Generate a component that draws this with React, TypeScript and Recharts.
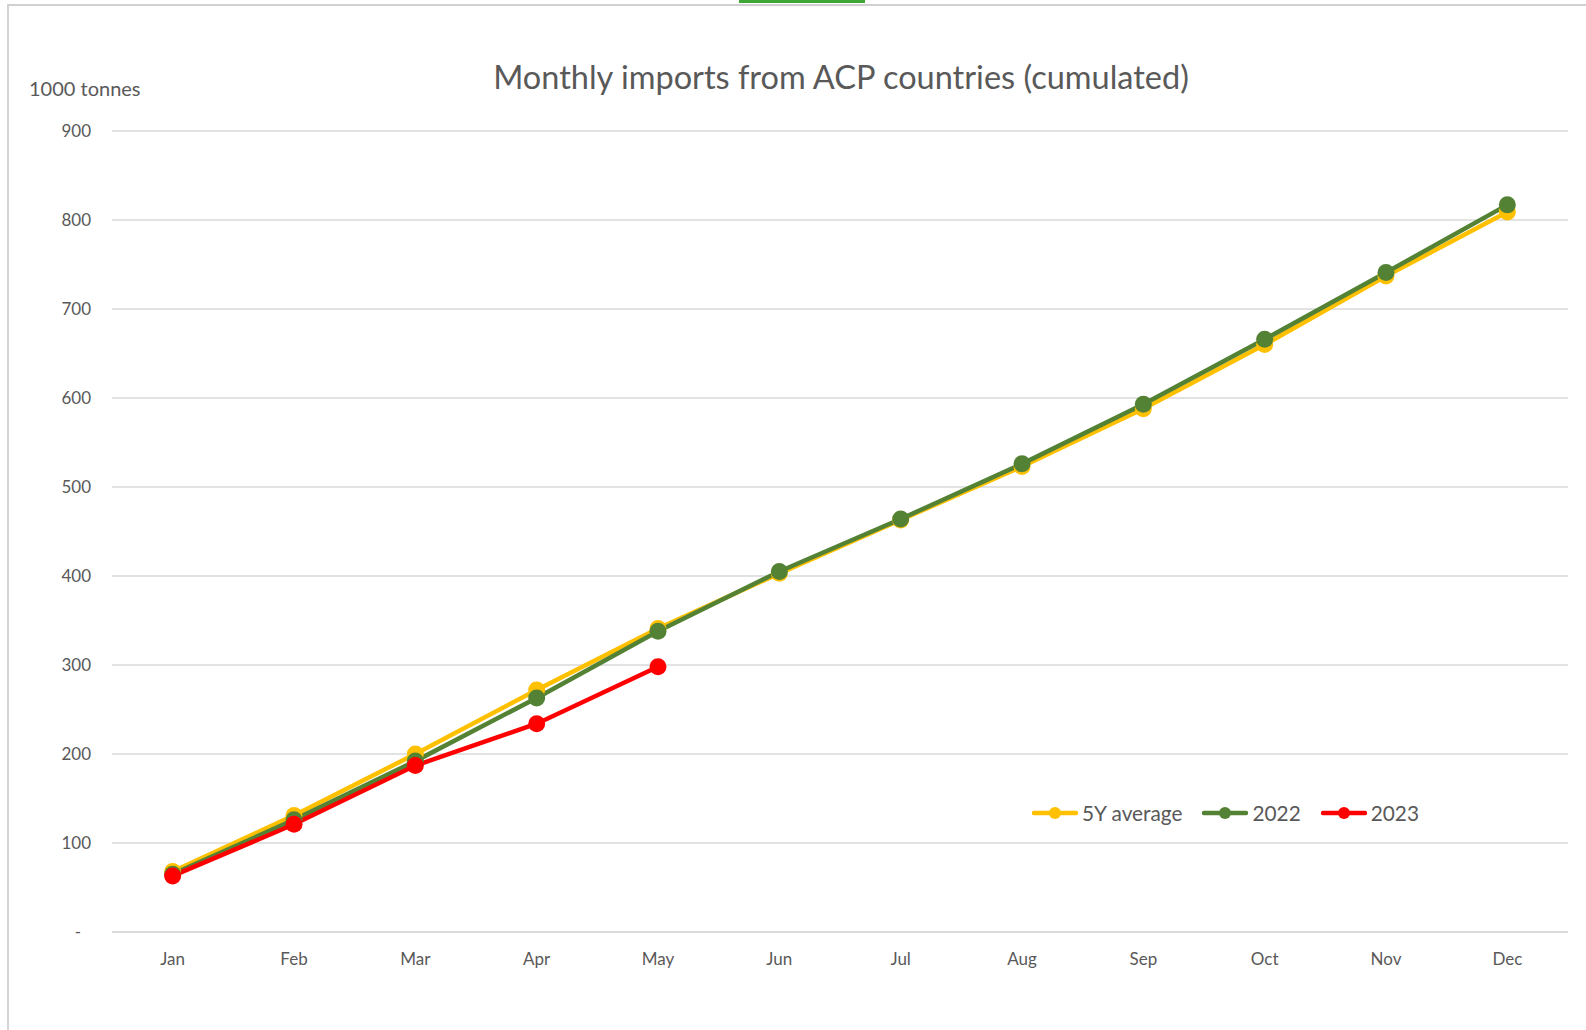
import { LineChart, Line, XAxis, YAxis, CartesianGrid } from 'recharts';

const months = ['Jan', 'Feb', 'Mar', 'Apr', 'May', 'Jun', 'Jul', 'Aug', 'Sep', 'Oct', 'Nov', 'Dec'];
const avg5y = [68, 131, 200, 272, 341, 403, 463, 523, 588, 660, 737, 809];
const y2022 = [65, 126, 192, 263, 338, 405, 464, 526, 593, 666, 741, 817];
const y2023 = [63, 121, 187, 234, 298];
const yTicks = [0, 100, 200, 300, 400, 500, 600, 700, 800, 900];

const seriesInfo = [
  { key: 'avg', name: '5Y average', color: '#FFC000' },
  { key: 'y2022', name: '2022', color: '#548235' },
  { key: 'y2023', name: '2023', color: '#FF0000' },
];

const data = months.map((m, i) => ({
  month: m,
  avg: avg5y[i],
  y2022: y2022[i],
  y2023: i < y2023.length ? y2023[i] : null,
}));

const FONT = 'Lato, "Open Sans", sans-serif';
const TEXT = '#595959';

function YTick({ x, y, payload }: any) {
  const v = payload.value;
  if (v === 0) {
    return (
      <text x={78} y={y} dy="0.35em" textAnchor="middle" fill={TEXT} fontSize={17} fontFamily={FONT}>
        -
      </text>
    );
  }
  return (
    <text x={x} y={y} dy="0.35em" textAnchor="end" fill={TEXT} fontSize={17} fontFamily={FONT}>
      {v}
    </text>
  );
}

export default function App() {
  return (
    <div style={{ position: 'relative', margin: -8, width: 1586, height: 1030, background: '#fff', overflow: 'hidden' }}>
      <div style={{ position: 'absolute', left: 0, width: 1586, top: 57, textAlign: 'center', paddingLeft: 96, boxSizing: 'border-box', fontFamily: FONT, fontSize: 32.5, color: TEXT }}>
        Monthly imports from ACP countries (cumulated)
      </div>
      <div style={{ position: 'absolute', left: 29, top: 76, fontFamily: FONT, fontSize: 20, color: TEXT }}>
        1000 tonnes
      </div>

      <div style={{ position: 'absolute', left: 0, top: 0 }}>
        <LineChart width={1586} height={1030} data={data} margin={{ top: 131, right: 18, bottom: 68, left: 52 }}>
          <CartesianGrid vertical={false} stroke="#D9D9D9" strokeWidth={1.3} />
          <XAxis
            dataKey="month"
            scale="band"
            axisLine={{ stroke: '#D9D9D9', strokeWidth: 1.3 }}
            tickLine={false}
            tickMargin={15}
            height={30}
            tick={{ fill: TEXT, fontSize: 17, fontFamily: FONT }}
          />
          <YAxis
            domain={[0, 900]}
            ticks={yTicks}
            width={60}
            axisLine={false}
            tickLine={false}
            tickMargin={15}
            tick={<YTick />}
          />
          <Line dataKey="avg" name="5Y average" stroke="#FFC000" strokeWidth={4.5}
            dot={{ r: 8.5, fill: '#FFC000', stroke: '#FFC000', strokeWidth: 0 }} isAnimationActive={false} />
          <Line dataKey="y2022" name="2022" stroke="#548235" strokeWidth={4.5}
            dot={{ r: 8.5, fill: '#548235', stroke: '#548235', strokeWidth: 0 }} isAnimationActive={false} />
          <Line dataKey="y2023" name="2023" stroke="#FF0000" strokeWidth={4.5}
            dot={{ r: 8.5, fill: '#FF0000', stroke: '#FF0000', strokeWidth: 0 }} isAnimationActive={false} />
        </LineChart>
      </div>

      <div style={{ position: 'absolute', left: 1032, top: 800, display: 'flex', alignItems: 'center', fontFamily: FONT, fontSize: 20.8, color: TEXT }}>
        {seriesInfo.map((s) => (
          <div key={s.key} style={{ display: 'flex', alignItems: 'center', marginRight: 20 }}>
            <svg width={46} height={16} style={{ marginRight: 4 }}>
              <line x1={2} y1={8} x2={44} y2={8} stroke={s.color} strokeWidth={4.5} strokeLinecap="round" />
              <circle cx={23} cy={8} r={6} fill={s.color} />
            </svg>
            <span>{s.name}</span>
          </div>
        ))}
      </div>

      <div style={{ position: 'fixed', left: 7, top: 4, width: 1600, height: 1100, borderLeft: '2px solid #D4D4D4', borderTop: '2px solid #D0D0D0', zIndex: 2 }} />
      <div style={{ position: 'fixed', left: 739, top: 0, width: 126, height: 3, background: '#3FA535', zIndex: 3 }} />
    </div>
  );
}
